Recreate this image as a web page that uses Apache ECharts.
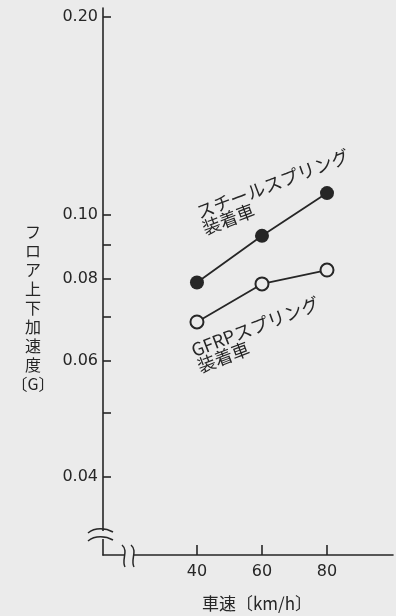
<!DOCTYPE html>
<html><head><meta charset="utf-8">
<script src="https://cdn.jsdelivr.net/npm/echarts@6/dist/echarts.min.js"></script>
<style>html,body{margin:0;padding:0;background:#ebebeb}#c{width:396px;height:616px}</style>
</head><body><div id="c"></div>
<script>
// ---- data ----
const speeds = [40, 60, 80];
const steelG = [0.079, 0.093, 0.108];
const gfrpG = [0.0688, 0.0786, 0.0825];
const yTickLabels = [0.04, 0.06, 0.08, 0.10, 0.20];
const yMinorTicks = [0.05, 0.07, 0.09];
const xTicks = [40, 60, 80];
const steelName = 'スチールスプリング\n装着車';
const gfrpName = 'GFRPスプリング\n装着車';
const yTitle = ['フ','ロ','ア','上','下','加','速','度','〔G〕'];
const xTitle = '車速〔km/h〕';

const BG = '#ebebeb', INK = '#262626';
const JP = '"Noto Sans CJK JP", sans-serif';
const NUM = '"DejaVu Sans", sans-serif';
const W = 396, H = 616;
const grid = {left: 103, right: 3, top: 8, bottom: 61};
const x0 = grid.left, y0 = H - grid.bottom;

const chart = echarts.init(document.getElementById('c'), null, {renderer: 'canvas'});
chart.setOption({
  backgroundColor: BG,
  animation: false,
  grid: grid,
  xAxis: {
    type: 'value', min: 11.1, max: 100.3,
    axisLine: {show: true, onZero: false, lineStyle: {color: INK, width: 1.6}},
    axisTick: {show: true, inside: true, length: 10, customValues: xTicks, lineStyle: {color: INK, width: 1.6}},
    axisLabel: {customValues: xTicks, margin: 9, fontSize: 16, color: INK, fontFamily: NUM},
    splitLine: {show: false}
  },
  yAxis: {
    type: 'log', min: 0.03044, max: 0.2064,
    axisLine: {show: true, lineStyle: {color: INK, width: 1.6}},
    axisTick: {show: true, inside: true, length: 8, customValues: yTickLabels.concat(yMinorTicks), lineStyle: {color: INK, width: 1.6}},
    axisLabel: {customValues: yTickLabels, formatter: v => Number(v).toFixed(2), margin: 5, fontSize: 16, color: INK, fontFamily: NUM},
    splitLine: {show: false}
  },
  series: [
    {type: 'line', data: speeds.map((s, i) => [s, steelG[i]]), symbol: 'circle', symbolSize: 14,
     itemStyle: {color: INK}, lineStyle: {color: INK, width: 1.8}, z: 3},
    {type: 'line', data: speeds.map((s, i) => [s, gfrpG[i]]), symbol: 'circle', symbolSize: 13,
     itemStyle: {color: BG, borderColor: INK, borderWidth: 2}, lineStyle: {color: INK, width: 1.8}, z: 3}
  ]
});

const rot = 21 * Math.PI / 180;
const ls = {stroke: INK, lineWidth: 1.5, fill: null};
function bz(x1, y1, c1x, c1y, c2x, c2y, x2, y2) {
  return {type: 'bezierCurve', shape: {x1: x1, y1: y1, cpx1: c1x, cpy1: c1y, cpx2: c2x, cpy2: c2y, x2: x2, y2: y2}, style: ls, z: 51};
}
chart.setOption({
  graphic: [
    // y-axis break
    {type: 'rect', shape: {x: x0 - 3, y: y0 - 24, width: 6, height: 8}, style: {fill: BG}, z: 50},
    bz(x0-15, y0-22, x0-8, y0-28, x0+3, y0-27, x0+10, y0-23),
    bz(x0-15, y0-14, x0-8, y0-20, x0+3, y0-19, x0+10, y0-15),
    // x-axis break
    {type: 'rect', shape: {x: x0 + 21, y: y0 - 3, width: 9, height: 6}, style: {fill: BG}, z: 50},
    bz(x0+19, y0-10, x0+26, y0-4, x0+18, y0+5, x0+22, y0+12),
    bz(x0+28, y0-10, x0+35, y0-4, x0+27, y0+5, x0+31, y0+12),
    // y title
    {type: 'text', x: 33, y: 222, style: {text: yTitle.join('\n'), fill: INK, font: '16px ' + JP, lineHeight: 19, align: 'center', verticalAlign: 'top'}},
    // x title
    {type: 'text', x: 257, y: 604, style: {text: xTitle, fill: INK, font: '17px ' + JP, align: 'center', verticalAlign: 'middle'}},
    // series labels
    {type: 'text', x: 194, y: 205, rotation: rot, style: {text: steelName, fill: INK, font: '18px ' + JP, lineHeight: 17, align: 'left', verticalAlign: 'top'}},
    {type: 'text', x: 189, y: 343, rotation: rot, style: {text: gfrpName, fill: INK, font: '18px ' + JP, lineHeight: 17, align: 'left', verticalAlign: 'top'}}
  ]
});
</script>
</body></html>
